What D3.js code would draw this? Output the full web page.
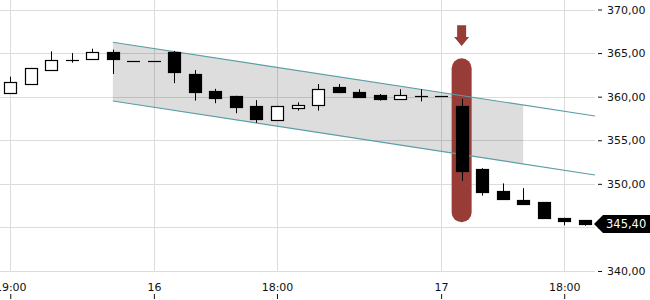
<!DOCTYPE html>
<html>
<head>
<meta charset="utf-8">
<script src="https://cdn.jsdelivr.net/npm/d3@7"></script>
<style>
  body { margin: 0; background: #fff; }
  svg { display: block; font-family: "DejaVu Sans", sans-serif; }
</style>
</head>
<body>
<div id="root"></div>
<script>
// hourly candles, index 0 = 19:00 on the 15th
const opens  = [360.4, 361.5, 363.1, 364.15, 364.3, 365.1, 364.05, 364.05, 365.1, 362.6,
                360.65, 360.1, 358.95, 357.4, 358.6, 359.0, 361.1, 360.55, 360.2, 359.75,
                360.1, 360.1, 358.9, 351.7, 349.2, 348.2, 347.9, 346.1, 345.85];
const highs  = [362.3, 363.3, 365.2, 365.0, 365.5, 365.4, 364.05, 364.05, 365.25, 363.05,
                360.9, 360.1, 359.6, 358.95, 359.35, 361.45, 361.45, 360.85, 360.3, 360.85,
                360.85, 360.1, 359.75, 351.8, 350.05, 349.5, 347.9, 346.1, 345.85];
const lows   = [360.4, 361.5, 363.0, 363.9, 364.3, 362.6, 364.05, 364.05, 361.55, 359.55,
                359.25, 358.1, 357.0, 357.4, 358.4, 358.4, 360.4, 359.9, 359.55, 359.75,
                359.45, 360.1, 350.35, 348.65, 348.3, 347.65, 346.0, 345.25, 345.2];
const closes = [361.7, 363.3, 364.2, 364.2, 365.1, 364.25, 364.05, 364.05, 362.75, 360.55,
                359.9, 358.85, 357.5, 358.95, 359.0, 360.85, 360.55, 360.0, 359.75, 360.2,
                360.05, 360.1, 351.5, 349.1, 348.3, 347.75, 346.1, 345.8, 345.4];

const xTickIndex = [0, 7, 13, 21, 27];
const xTickLabels = ["19:00", "16", "18:00", "17", "18:00"];
const yTicks = [340, 345, 350, 355, 360, 365, 370];

// trend channel: [index, value] end points, shaded up to channelShadeEnd
const channelUpper = [[5, 366.24], [28.5, 357.79]];
const channelLower = [[5, 359.51], [28.5, 351.02]];
const channelShadeEnd = 25;

// highlighted candle
const highlightIndex = 22;
const highlightRange = [345.6, 364.4];
const arrowRange = [365.8, 368.2];

const lastPrice = closes[closes.length - 1];

const width = 650;
const height = 300;
const plotRight = 595;

const svg = d3.select("#root")
  .append("svg")
  .attr("width", width)
  .attr("height", height)
  .attr("viewBox", `0 0 ${width} ${height}`);

const xScale = d3.scaleLinear().domain([-0.5, 28.5]).range([0, plotRight]);
const yScale = d3.scaleLinear().domain([340, 370]).range([271, 9.5]);

const fmt = d3.formatLocale({ decimal: ",", thousands: ".", grouping: [3], currency: ["", ""] }).format(".2f");
const bodyW = 12;
const snap = (v) => Math.round(v) + 0.5;

// grid
const grid = svg.append("g").attr("stroke", "#dcdcdc").attr("stroke-width", 1);
grid.selectAll(".h")
  .data(yTicks)
  .join("line")
  .attr("x1", 0)
  .attr("x2", plotRight)
  .attr("y1", (d) => snap(yScale(d)))
  .attr("y2", (d) => snap(yScale(d)));
grid.selectAll(".v")
  .data(xTickIndex)
  .join("line")
  .attr("x1", (d) => snap(xScale(d)))
  .attr("x2", (d) => snap(xScale(d)))
  .attr("y1", 0)
  .attr("y2", snap(yScale(340)));

// channel shading
const lineAt = (pts, i) => {
  const [[i0, v0], [i1, v1]] = pts;
  return v0 + ((v1 - v0) * (i - i0)) / (i1 - i0);
};
const shadeIdx = [channelUpper[0][0], channelShadeEnd];
const area = d3.area()
  .x((d) => xScale(d))
  .y0((d) => yScale(lineAt(channelLower, d)))
  .y1((d) => yScale(lineAt(channelUpper, d)));
svg.append("path")
  .datum(shadeIdx)
  .attr("d", area)
  .attr("fill", "#000")
  .attr("fill-opacity", 0.135);

// highlight bar and arrow
const hx = xScale(highlightIndex);
svg.append("rect")
  .attr("x", hx - 10)
  .attr("y", yScale(highlightRange[1]))
  .attr("width", 20)
  .attr("height", yScale(highlightRange[0]) - yScale(highlightRange[1]))
  .attr("rx", 10)
  .attr("fill", "#983c37");

const aTop = yScale(arrowRange[1]);
const aTip = yScale(arrowRange[0]);
const aNeck = aTip - 9;
svg.append("path")
  .attr("d", `M${hx - 4.5},${aTop} H${hx + 4.5} V${aNeck} H${hx + 7.5} L${hx},${aTip} L${hx - 7.5},${aNeck} H${hx - 4.5} Z`)
  .attr("fill", "#983c37");

// channel lines
const line = d3.line()
  .x((d) => xScale(d[0]))
  .y((d) => yScale(d[1]));
svg.selectAll(".channel")
  .data([channelUpper, channelLower])
  .join("path")
  .attr("d", line)
  .attr("fill", "none")
  .attr("stroke", "#5b9ea6")
  .attr("stroke-width", 1.1);

// candles
const candles = opens.map((o, i) => ({ i, o, h: highs[i], l: lows[i], c: closes[i] }));
const cg = svg.append("g")
  .selectAll("g")
  .data(candles)
  .join("g");

cg.append("line")
  .attr("x1", (d) => snap(xScale(d.i)))
  .attr("x2", (d) => snap(xScale(d.i)))
  .attr("y1", (d) => yScale(d.h))
  .attr("y2", (d) => yScale(d.l))
  .attr("stroke", "#000");

cg.filter((d) => Math.abs(yScale(d.o) - yScale(d.c)) < 1.5)
  .append("line")
  .attr("x1", (d) => Math.round(xScale(d.i)) - bodyW / 2)
  .attr("x2", (d) => Math.round(xScale(d.i)) + bodyW / 2 + 1)
  .attr("y1", (d) => snap(yScale(d.c)))
  .attr("y2", (d) => snap(yScale(d.c)))
  .attr("stroke", "#000")
  .attr("stroke-width", 1.2);

cg.filter((d) => Math.abs(yScale(d.o) - yScale(d.c)) >= 1.5)
  .append("rect")
  .attr("x", (d) => Math.round(xScale(d.i)) - bodyW / 2 + 0.5)
  .attr("y", (d) => snap(yScale(Math.max(d.o, d.c))))
  .attr("width", bodyW)
  .attr("height", (d) => Math.round(Math.abs(yScale(d.o) - yScale(d.c))))
  .attr("fill", (d) => (d.c >= d.o ? "#fff" : "#000"))
  .attr("stroke", "#000")
  .attr("stroke-width", 1.2);

// right axis (the 345 label sits under the last-price tag, so it is left out)
const rightAxis = d3.axisRight(yScale)
  .tickValues(yTicks)
  .tickSize(4)
  .tickPadding(5)
  .tickFormat((d) => (Math.abs(d - lastPrice) < 2 ? "" : fmt(d)));
const ya = svg.append("g")
  .attr("transform", `translate(${plotRight + 3},0)`)
  .call(rightAxis);
ya.select(".domain").remove();
ya.selectAll("text").attr("font-size", 11).attr("fill", "#111").attr("font-family", "DejaVu Sans");
ya.selectAll("line").attr("stroke", "#111");

// bottom axis (labels above small tick marks)
const topAxis = d3.axisTop(xScale)
  .tickValues(xTickIndex)
  .tickFormat((d, k) => xTickLabels[k])
  .tickSize(5)
  .tickPadding(3);
const xa = svg.append("g")
  .attr("transform", `translate(0,${height - 1})`)
  .call(topAxis);
xa.select(".domain").remove();
xa.selectAll("text").attr("font-size", 11).attr("fill", "#111").attr("font-family", "DejaVu Sans");
xa.selectAll("line").attr("stroke", "#111");

// last price tag
const ly = yScale(lastPrice);
const tag = svg.append("g");
tag.append("path")
  .attr("d", `M${plotRight - 1},${ly} L${plotRight + 8},${ly - 9} H${width} V${ly + 9} H${plotRight + 8} Z`)
  .attr("fill", "#000");
tag.append("text")
  .attr("x", plotRight + 11)
  .attr("y", ly)
  .attr("dy", "0.36em")
  .attr("font-size", 11.5)
  .attr("fill", "#fff")
  .text(fmt(lastPrice));
</script>
</body>
</html>
